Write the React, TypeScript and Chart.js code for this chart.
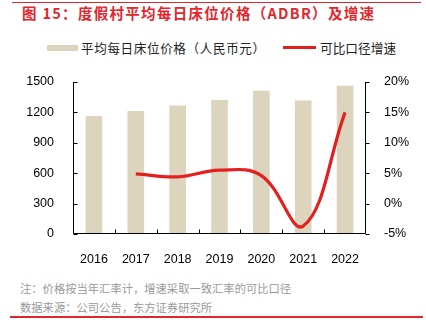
import React, { useEffect, useRef } from "react";
import { Chart, registerables } from "chart.js";

Chart.register(...registerables);

const years = ["2016", "2017", "2018", "2019", "2020", "2021", "2022"];
const adbr = [1160, 1210, 1265, 1320, 1410, 1315, 1460];
const growth = [null, 4.9, 4.4, 5.5, 4.6, -3.7, 15.0];
const leftTicks = [0, 1500, 300];
const rightTicks = [-5, 20, 5];

const BAR_COLOR = "#ddd4bd";
const LINE_COLOR = "#e3201d";
const RED = "#e3262b";
const CJK = '"Noto Sans CJK SC", "Noto Sans", sans-serif';
const LAT = '"Liberation Sans", Arial, sans-serif';

const axisPlugin = {
  id: "axisDraw",
  afterDatasetsDraw(chart: any) {
    const { ctx, chartArea } = chart;
    const { left, right, top, bottom } = chartArea;
    const yl = chart.scales.y;
    const yr = chart.scales.y1;
    const xs = chart.scales.x;
    ctx.save();
    ctx.strokeStyle = "#000";
    ctx.lineWidth = 1;
    const L = Math.round(left) + 0.5;
    const R = Math.round(right) - 0.5;
    const B = Math.round(bottom) - 0.5;
    ctx.beginPath();
    ctx.moveTo(L, Math.round(top));
    ctx.lineTo(L, B);
    ctx.lineTo(R, B);
    ctx.moveTo(R, Math.round(top));
    ctx.lineTo(R, B);
    yl.ticks.forEach((t: any) => {
      const y = Math.round(yl.getPixelForValue(t.value)) + 0.5;
      ctx.moveTo(L, y);
      ctx.lineTo(L + 4, y);
    });
    yr.ticks.forEach((t: any) => {
      const y = Math.round(yr.getPixelForValue(t.value)) + 0.5;
      ctx.moveTo(R, y);
      ctx.lineTo(R + 4, y);
    });
    for (let i = 1; i < years.length; i++) {
      const x = Math.round((xs.getPixelForTick(i - 1) + xs.getPixelForTick(i)) / 2) + 0.5;
      ctx.moveTo(x, B);
      ctx.lineTo(x, B - 4);
    }
    ctx.stroke();
    ctx.restore();
  },
};

const cjkText: any = {
  position: "absolute",
  fontFamily: CJK,
  whiteSpace: "nowrap",
};

export default function App() {
  const ref = useRef<HTMLCanvasElement | null>(null);
  useEffect(() => {
    if (!ref.current) return;
    const chart = new Chart(ref.current, {
      type: "bar",
      data: {
        labels: years,
        datasets: [
          {
            type: "line",
            label: "可比口径增速",
            data: growth,
            yAxisID: "y1",
            borderColor: LINE_COLOR,
            borderWidth: 3.2,
            pointRadius: 0,
            tension: 0.4,
            fill: false,
            order: 0,
          } as any,
          {
            type: "bar",
            label: "平均每日床位价格（人民币元）",
            data: adbr,
            yAxisID: "y",
            backgroundColor: BAR_COLOR,
            barThickness: 16,
            order: 1,
          },
        ],
      },
      options: {
        responsive: false,
        animation: false,
        devicePixelRatio: 1,
        layout: { padding: { top: 22, left: 0, right: 0, bottom: 0 } },
        plugins: { legend: { display: false }, tooltip: { enabled: false } },
        scales: {
          x: {
            grid: { display: false },
            border: { display: false },
            ticks: { color: "#000", font: { family: LAT, size: 12.5 }, padding: 10, maxRotation: 0 },
            afterFit: (s: any) => {
              s.height = 36;
            },
          },
          y: {
            position: "left",
            min: leftTicks[0],
            max: leftTicks[1],
            grid: { display: false },
            border: { display: false },
            ticks: {
              stepSize: leftTicks[2],
              color: "#000",
              font: { family: LAT, size: 12.5 },
              padding: 11,
              callback: (v: any) => String(v),
            },
            afterFit: (s: any) => {
              s.width = 73;
            },
          },
          y1: {
            position: "right",
            min: rightTicks[0],
            max: rightTicks[1],
            grid: { display: false },
            border: { display: false },
            ticks: {
              stepSize: rightTicks[2],
              color: "#000",
              font: { family: LAT, size: 12.5 },
              padding: 10,
              callback: (v: any) => v + "%",
            },
            afterFit: (s: any) => {
              s.width = 60;
            },
          },
        },
      },
      plugins: [axisPlugin],
    });
    return () => chart.destroy();
  }, []);

  return (
    <div style={{ position: "absolute", left: 0, top: 0, width: 426, height: 333, background: "#fff", overflow: "hidden" }}>
      <div style={{ position: "absolute", left: 12, top: 2, width: 409, height: 1, background: RED }} />
      <div
        style={{
          ...cjkText,
          left: 22,
          top: 5,
          fontSize: 14.5,
          lineHeight: "16px",
          fontWeight: "bold",
          letterSpacing: "1.3px",
          color: RED,
        }}
      >
        图 15：度假村平均每日床位价格（ADBR）及增速
      </div>
      <div style={{ position: "absolute", left: 47, top: 45, width: 31, height: 6, background: BAR_COLOR }} />
      <div style={{ ...cjkText, left: 81, top: 40.5, fontSize: 12.6, lineHeight: "14px", letterSpacing: "0.6px", color: "#222" }}>
        平均每日床位价格（人民币元）
      </div>
      <div style={{ position: "absolute", left: 283, top: 46, width: 33, height: 3, background: LINE_COLOR }} />
      <div style={{ ...cjkText, left: 320, top: 40.5, fontSize: 12.7, lineHeight: "14px", color: "#222" }}>
        可比口径增速
      </div>
      <canvas ref={ref} width={426} height={210} style={{ position: "absolute", left: 0, top: 60, width: 426, height: 210 }} />
      <div style={{ ...cjkText, left: 20, top: 282, fontSize: 11.3, lineHeight: "13px", color: "#999" }}>
        注：价格按当年汇率计，增速采取一致汇率的可比口径
      </div>
      <div style={{ ...cjkText, left: 20, top: 300.5, fontSize: 11.3, lineHeight: "13px", color: "#999" }}>
        数据来源：公司公告，东方证券研究所
      </div>
      <div style={{ position: "absolute", left: 10, top: 316, width: 413, height: 1.5, background: RED }} />
    </div>
  );
}
